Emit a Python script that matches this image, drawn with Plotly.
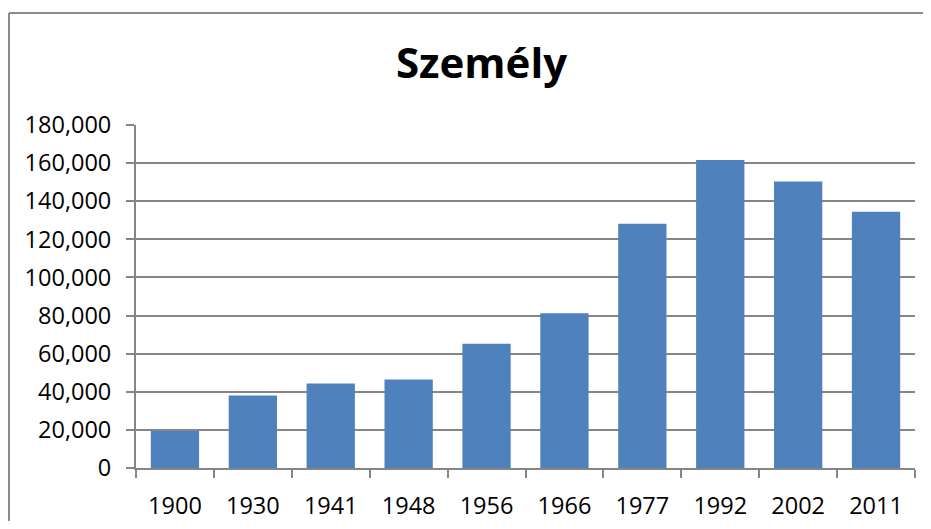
import plotly.graph_objects as go

years = ["1900", "1930", "1941", "1948", "1956", "1966", "1977", "1992", "2002", "2011"]
persons = [19400, 38100, 44400, 46500, 65200, 81200, 128200, 161600, 150300, 134500]
y_ticks = [0, 20000, 40000, 60000, 80000, 100000, 120000, 140000, 160000, 180000]
y_tick_labels = ["0", "20,000", "40,000", "60,000", "80,000", "100,000", "120,000", "140,000", "160,000", "180,000"]
title_text = "Személy"

OFF = 8  # page body margin
W, H = 931 - 2 * OFF, 529 - 2 * OFF
L, T = 136 - OFF, 125 - OFF
R = W - (915 - OFF)
B = H - (468 - OFF)

fig = go.Figure(go.Bar(x=years, y=persons, marker=dict(color="#4F81BD", line=dict(width=0))))

grid = "#868686"
fig.update_layout(
    width=W, height=H,
    margin=dict(l=L, r=R, t=T, b=B, pad=0, autoexpand=False),
    paper_bgcolor="white", plot_bgcolor="white",
    bargap=0.38,
    showlegend=False,
    font=dict(family="Open Sans", size=23.5, color="#000000"),
    title=dict(text="<b>" + title_text + "</b>", x=(481.5 - OFF) / W, xref="container", xanchor="center",
               y=1 - (63 - OFF) / H, yref="container", yanchor="middle",
               font=dict(family="Open Sans", size=42, color="#000000")),
    xaxis=dict(type="category", showline=True, linecolor=grid, linewidth=2, automargin=False,
               ticks="outside", tickson="boundaries", ticklen=8, tickcolor=grid, tickwidth=2,
               showgrid=False, ticklabelstandoff=16,
               tickfont=dict(family="Open Sans", size=23.5, color="#000000")),
    yaxis=dict(range=[0, 180000], tickvals=y_ticks, ticktext=y_tick_labels, automargin=False,
               showline=True, linecolor=grid, linewidth=2,
               ticks="outside", ticklen=8, tickcolor=grid, tickwidth=2,
               showgrid=True, gridcolor=grid, gridwidth=2, zeroline=False,
               ticklabelstandoff=10,
               tickfont=dict(family="Open Sans", size=23.5, color="#000000")),
)

pw = W - L - R
ph = H - T - B
bx = (8 - OFF - L) / pw + 1 / pw
by = (H - B - (13 - OFF)) / ph
border = dict(color="#8c8c8c", width=2)
fig.add_shape(type="line", xref="paper", yref="paper", x0=bx, x1=3, y0=by, y1=by, line=border, layer="below")
fig.add_shape(type="line", xref="paper", yref="paper", x0=bx, x1=bx, y0=by, y1=-3, line=border, layer="below")

fig.write_html("out.html")
